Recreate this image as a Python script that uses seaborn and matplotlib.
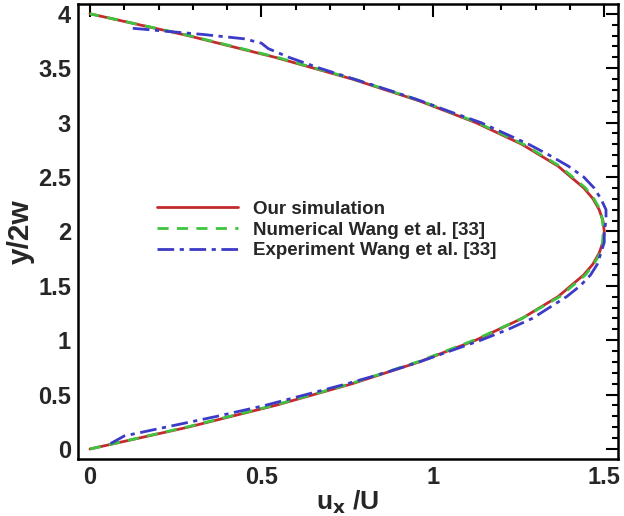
import numpy as np
import pandas as pd
import matplotlib
matplotlib.use('Agg')
import matplotlib.pyplot as plt
from matplotlib.ticker import MultipleLocator, FormatStrFormatter
import seaborn as sns

# values (u_x/U against y/2w)
sim_y = [0.0, 0.2, 0.4, 0.6, 0.8, 1.0, 1.2, 1.4, 1.6, 1.7, 1.8, 1.9, 2.0,
         2.1, 2.2, 2.3, 2.4, 2.6, 2.8, 3.0, 3.2, 3.4, 3.6, 3.8, 4.0]
sim_u = [0.0, 0.285, 0.54, 0.765, 0.96, 1.125, 1.26, 1.365, 1.44, 1.467, 1.485, 1.496, 1.5,
         1.496, 1.485, 1.467, 1.44, 1.365, 1.26, 1.125, 0.96, 0.765, 0.54, 0.285, 0.0]

num_y = [0.0, 0.2, 0.4, 0.6, 0.8, 1.0, 1.2, 1.4, 1.6, 1.7, 1.8, 1.9, 2.0,
         2.1, 2.2, 2.3, 2.4, 2.6, 2.8, 3.0, 3.2, 3.4, 3.6, 3.8, 4.0]
num_u = [0.0, 0.28, 0.535, 0.76, 0.955, 1.12, 1.26, 1.37, 1.445, 1.47, 1.488, 1.495, 1.497,
         1.495, 1.488, 1.47, 1.445, 1.37, 1.265, 1.13, 0.965, 0.77, 0.545, 0.29, 0.0]

exp_y = [0.05, 0.12, 0.2, 0.3, 0.4, 0.5, 0.6, 0.7, 0.8, 0.9, 1.0, 1.1, 1.2, 1.3, 1.4,
         1.5, 1.6, 1.7, 1.8, 1.9, 2.0, 2.1, 2.2, 2.3, 2.4, 2.5, 2.6, 2.7, 2.8, 2.9,
         3.0, 3.1, 3.2, 3.3, 3.4, 3.5, 3.6, 3.68, 3.73, 3.77, 3.81, 3.84, 3.86, 3.87]
exp_u = [0.06, 0.1, 0.22, 0.37, 0.51, 0.63, 0.75, 0.86, 0.96, 1.05, 1.14, 1.22, 1.29, 1.34, 1.39,
         1.43, 1.46, 1.48, 1.49, 1.5, 1.5, 1.505, 1.505, 1.49, 1.47, 1.44, 1.395, 1.34, 1.28, 1.21,
         1.14, 1.05, 0.965, 0.87, 0.77, 0.67, 0.58, 0.52, 0.5, 0.45, 0.33, 0.22, 0.15, 0.11]

labels = ['Our simulation', 'Numerical Wang et al. [33]', 'Experiment Wang et al. [33]']
colors = ['#c42a2e', '#3ec43e', '#3b3bc8']

sns.set_style('white')
plt.rcParams['font.family'] = ['Liberation Sans', 'DejaVu Sans']
plt.rcParams['font.weight'] = 'bold'

fig = plt.figure(figsize=(6.24, 5.16), dpi=100)
ax = fig.add_axes([78/624, 1-459/516, 540/624, 455/516])

sns.lineplot(x=sim_u, y=sim_y, sort=False, estimator=None, ax=ax,
             color=colors[0], lw=2, label=labels[0])
sns.lineplot(x=num_u, y=num_y, sort=False, estimator=None, ax=ax,
             color=colors[1], lw=2, dashes=(4, 3), label=labels[1])
sns.lineplot(x=exp_u, y=exp_y, sort=False, estimator=None, ax=ax,
             color=colors[2], lw=2, label=labels[2])
ax.lines[2].set_dashes([6, 2, 1.5, 2])

ax.set_xlim(-0.035, 1.54)
ax.set_ylim(-0.092, 4.09)
ax.xaxis.set_major_locator(MultipleLocator(0.5))
ax.xaxis.set_minor_locator(MultipleLocator(0.1))
ax.yaxis.set_major_locator(MultipleLocator(0.5))
ax.yaxis.set_minor_locator(MultipleLocator(0.1))
ax.xaxis.set_major_formatter(FormatStrFormatter('%g'))
ax.yaxis.set_major_formatter(FormatStrFormatter('%g'))
ax.tick_params(which='both', direction='in', top=True, right=True, width=1.5, color='black')
ax.tick_params(which='major', length=9, labelsize=17, pad=5)
ax.tick_params(which='minor', length=4.5)
for s in ax.spines.values():
    s.set_linewidth(1.8)
    s.set_color('black')

ax.set_xlabel(r'u$_\mathbf{x}$ /U', fontsize=19, fontweight='bold', labelpad=0)
ax.set_ylabel('y/2w', fontsize=21.5, fontweight='bold', labelpad=2)

leg = ax.legend(loc='upper left', bbox_to_anchor=(0.115, 0.605), frameon=False,
                fontsize=13.5, handlelength=4.3, handletextpad=0.8, labelspacing=0.2)
for t in leg.get_texts():
    t.set_fontweight('bold')

fig.savefig('out.png', dpi=100)
